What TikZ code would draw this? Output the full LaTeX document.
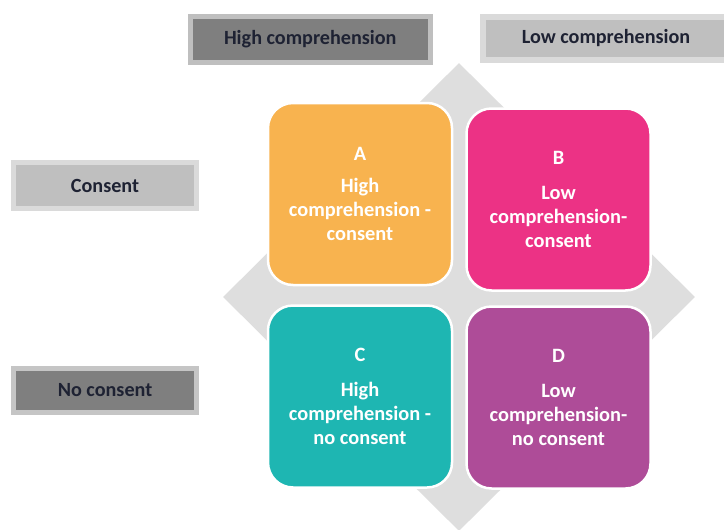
\documentclass[tikz,border=0pt]{standalone}
\usepackage{fontspec}
\setmainfont{Carlito}
\usepackage{xcolor}
\usetikzlibrary{shapes.geometric}
\newlength\pxu
\setlength\pxu{0.03cm}
\definecolor{crossgray}{HTML}{DEDEDE}
\definecolor{quadA}{HTML}{F8B34F}
\definecolor{quadB}{HTML}{EC3285}
\definecolor{quadC}{HTML}{1EB6B2}
\definecolor{quadD}{HTML}{AE4C98}
\definecolor{darkfill}{HTML}{7F7F7F}
\definecolor{lightfill}{HTML}{BFBFBF}
\definecolor{paleedge}{HTML}{DADADA}
\definecolor{tagtext}{HTML}{1E2233}
\tikzset{
	% coloured quadrant
	quad/.style={
		rectangle,
		rounded corners=25\pxu,
		draw=white,
		line width=2.5\pxu,
		minimum width=184\pxu,
		minimum height=182\pxu,
		text=white,
		align=center,
		font=\bfseries\fontsize{17.4}{20.6}\selectfont
	},
	% axis label box
	tag/.style={
		rectangle,
		inner sep=0,
		line width=5\pxu,
		text=tagtext,
		font=\bfseries\fontsize{17.2}{19}\selectfont
	}
}

\begin{document}
\begin{tikzpicture}[x=0.03cm, y=-0.03cm]
\useasboundingbox (0,0) rectangle (724,530);

\node[diamond, fill=crossgray, inner sep=0, minimum width=472\pxu, minimum height=468\pxu] at (459,297) (cross) {};

% quadrants
\node[quad, fill=quadA] at (360,194) (A) {A\\[7pt]High\\comprehension -\\consent};
\node[quad, fill=quadB] at (558.5,199.5) (B) {B\\[9pt]Low\\comprehension-\\consent};
\node[quad, fill=quadC] at (360,396.5) (C) {C\\[9pt]High\\comprehension -\\no consent};
\node[quad, fill=quadD] at (558.5,397.5) (D) {D\\[9pt]Low\\comprehension-\\no consent};

% axis labels
\node[tag, fill=darkfill, draw=lightfill, minimum width=239.5\pxu, minimum height=46\pxu] at (310.25,39.5) (high) {High comprehension};
\node[tag, fill=lightfill, draw=paleedge, line width=6\pxu, minimum width=246\pxu, minimum height=43.5\pxu] at (606,38.3) (low) {Low comprehension};
\node[tag, fill=lightfill, draw=paleedge, minimum width=183\pxu, minimum height=46\pxu] at (105,185.5) (yes) {Consent};
\node[tag, fill=darkfill, draw=lightfill!90!white, minimum width=183\pxu, minimum height=44\pxu] at (105,390.5) (no) {No consent};

\end{tikzpicture}
\end{document}
